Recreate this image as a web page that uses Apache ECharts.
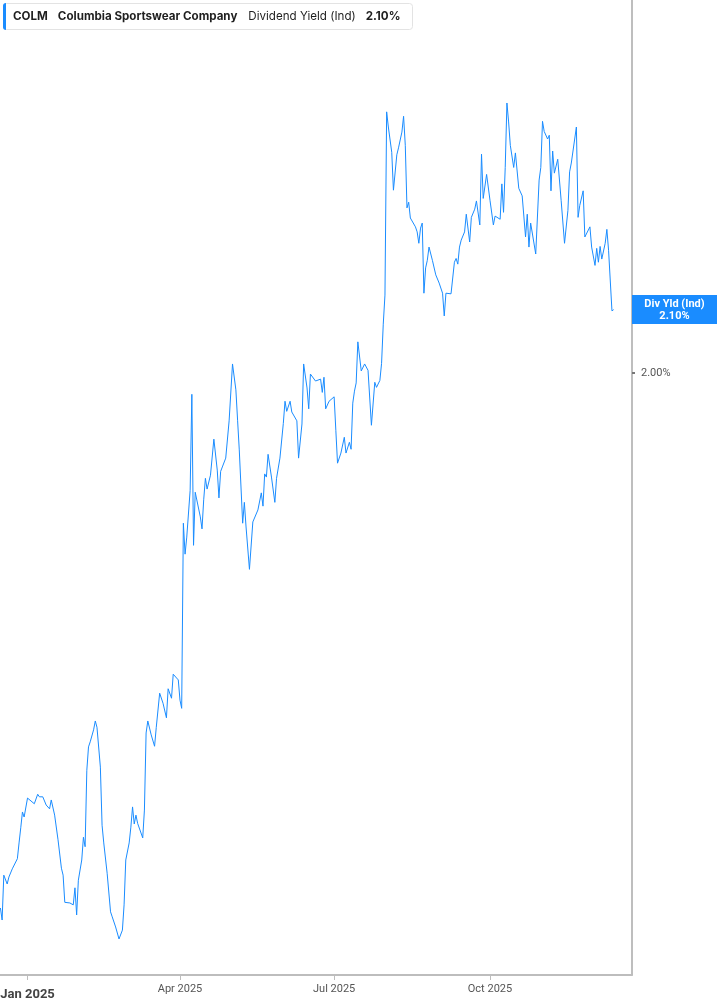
<!DOCTYPE html>
<html>
<head>
<meta charset="utf-8">
<script src="https://cdn.jsdelivr.net/npm/echarts@6/dist/echarts.min.js"></script>
<style>
html,body{margin:0;padding:0;background:#fff;}
#main{width:717px;height:1005px;}
</style>
</head>
<body>
<div id="main"></div>
<script>
var ticker = 'COLM';
var company = 'Columbia Sportswear Company';
var metric = 'Dividend Yield (Ind)';

var dates = [
'2024-12-16','2024-12-17','2024-12-18','2024-12-19','2024-12-20','2024-12-21','2024-12-23','2024-12-24','2024-12-26','2024-12-27',
'2024-12-28','2024-12-29','2024-12-30','2025-01-01','2025-01-02','2025-01-05','2025-01-07','2025-01-08','2025-01-10','2025-01-12',
'2025-01-14','2025-01-15','2025-01-16','2025-01-17','2025-01-19','2025-01-21','2025-01-22','2025-01-23','2025-01-24','2025-01-26',
'2025-01-28','2025-01-29','2025-01-30','2025-01-31','2025-02-02','2025-02-03','2025-02-04','2025-02-05','2025-02-06','2025-02-07',
'2025-02-09','2025-02-10','2025-02-11','2025-02-13','2025-02-14','2025-02-15','2025-02-17','2025-02-19','2025-02-20','2025-02-22',
'2025-02-24','2025-02-26','2025-02-27','2025-02-28','2025-03-02','2025-03-03','2025-03-04','2025-03-05','2025-03-06','2025-03-07',
'2025-03-10','2025-03-11','2025-03-12','2025-03-13','2025-03-15','2025-03-17','2025-03-18','2025-03-20','2025-03-22','2025-03-24',
'2025-03-25','2025-03-27','2025-03-28','2025-03-31','2025-04-01','2025-04-02','2025-04-03','2025-04-04','2025-04-05','2025-04-07',
'2025-04-08','2025-04-09','2025-04-10','2025-04-11','2025-04-13','2025-04-14','2025-04-15','2025-04-16','2025-04-17','2025-04-19',
'2025-04-21','2025-04-23','2025-04-24','2025-04-25','2025-04-26','2025-04-28','2025-04-30','2025-05-01','2025-05-02','2025-05-04',
'2025-05-05','2025-05-06','2025-05-08','2025-05-09','2025-05-10','2025-05-12','2025-05-14','2025-05-15','2025-05-17','2025-05-19',
'2025-05-20','2025-05-21','2025-05-22','2025-05-23','2025-05-25','2025-05-27','2025-05-28','2025-05-30','2025-06-01','2025-06-02',
'2025-06-03','2025-06-05','2025-06-06','2025-06-09','2025-06-10','2025-06-12','2025-06-13','2025-06-15','2025-06-16','2025-06-17',
'2025-06-18','2025-06-20','2025-06-23','2025-06-24','2025-06-25','2025-06-26','2025-06-28','2025-07-01','2025-07-02','2025-07-03',
'2025-07-05','2025-07-07','2025-07-08','2025-07-10','2025-07-11','2025-07-12','2025-07-13','2025-07-14','2025-07-15','2025-07-17',
'2025-07-19','2025-07-21','2025-07-23','2025-07-25','2025-07-26','2025-07-28','2025-07-29','2025-07-30','2025-07-31','2025-08-01',
'2025-08-02','2025-08-04','2025-08-05','2025-08-07','2025-08-08','2025-08-10','2025-08-11','2025-08-12','2025-08-13','2025-08-14',
'2025-08-15','2025-08-18','2025-08-19','2025-08-20','2025-08-21','2025-08-22','2025-08-23','2025-08-24','2025-08-25','2025-08-26',
'2025-08-28','2025-08-29','2025-08-30','2025-09-01','2025-09-03','2025-09-04','2025-09-05','2025-09-08','2025-09-10','2025-09-11',
'2025-09-12','2025-09-13','2025-09-14','2025-09-16','2025-09-17','2025-09-19','2025-09-20','2025-09-22','2025-09-23','2025-09-25',
'2025-09-26','2025-09-27','2025-09-29','2025-10-01','2025-10-03','2025-10-04','2025-10-07','2025-10-08','2025-10-09','2025-10-10',
'2025-10-11','2025-10-12','2025-10-13','2025-10-15','2025-10-16','2025-10-18','2025-10-20','2025-10-22','2025-10-23','2025-10-24',
'2025-10-25','2025-10-28','2025-10-30','2025-10-31','2025-11-01','2025-11-02','2025-11-04','2025-11-05','2025-11-06','2025-11-07',
'2025-11-08','2025-11-10','2025-11-12','2025-11-14','2025-11-16','2025-11-17','2025-11-18','2025-11-21','2025-11-22','2025-11-23',
'2025-11-25','2025-11-26','2025-11-29','2025-11-30','2025-12-02','2025-12-03','2025-12-04','2025-12-05','2025-12-06','2025-12-08',
'2025-12-09','2025-12-10','2025-12-12','2025-12-13'
];

var yields = [
1.153,1.134,1.205,1.204,1.191,1.202,1.215,1.218,1.231,1.256,
1.280,1.305,1.297,1.327,1.327,1.318,1.333,1.329,1.329,1.316,
1.310,1.324,1.321,1.300,1.261,1.216,1.205,1.162,1.164,1.161,
1.158,1.185,1.142,1.197,1.229,1.265,1.250,1.371,1.408,1.416,
1.435,1.449,1.439,1.376,1.284,1.256,1.208,1.147,1.139,1.123,
1.104,1.118,1.158,1.229,1.256,1.281,1.313,1.286,1.300,1.287,
1.264,1.308,1.430,1.449,1.427,1.409,1.439,1.493,1.477,1.454,
1.500,1.485,1.523,1.514,1.482,1.469,1.762,1.713,1.740,1.814,
1.966,1.727,1.811,1.811,1.772,1.753,1.799,1.833,1.816,1.838,
1.895,1.846,1.802,1.844,1.851,1.865,1.924,1.924,2.014,1.973,
1.925,1.878,1.762,1.795,1.756,1.689,1.764,1.762,1.783,1.810,
1.789,1.840,1.835,1.871,1.835,1.795,1.833,1.865,1.920,1.955,
1.939,1.955,1.938,1.924,1.865,1.919,2.014,1.976,1.943,1.998,
2.000,1.987,1.990,1.969,1.993,1.943,1.955,1.962,1.909,1.857,
1.873,1.898,1.873,1.890,1.879,1.952,1.971,1.984,2.049,2.003,
2.014,2.004,1.917,1.985,1.977,1.988,2.015,2.077,2.123,2.413,
2.389,2.349,2.289,2.345,2.356,2.381,2.406,2.360,2.261,2.270,
2.245,2.231,2.223,2.205,2.229,2.237,2.126,2.166,2.178,2.199,
2.178,2.181,2.155,2.142,2.126,2.090,2.126,2.125,2.175,2.181,
2.172,2.199,2.210,2.223,2.251,2.207,2.246,2.259,2.272,2.234,
2.346,2.276,2.314,2.273,2.234,2.248,2.243,2.299,2.254,2.325,
2.427,2.397,2.360,2.325,2.348,2.292,2.280,2.215,2.251,2.199,
2.237,2.188,2.305,2.325,2.398,2.382,2.370,2.376,2.288,2.351,
2.316,2.338,2.273,2.205,2.257,2.318,2.332,2.389,2.246,2.265,
2.288,2.215,2.231,2.199,2.170,2.197,2.175,2.200,2.180,2.205,
2.227,2.194,2.098,2.100
];

var tickDates = ['2025-01-01', '2025-04-01', '2025-07-01', '2025-10-01'];
var tickLabels = ['Jan 2025', 'Apr 2025', 'Jul 2025', 'Oct 2025'];
var yTicks = [2.00];

var blue = '#1a8cff';

function ts(s) {
    var p = s.split('-');
    return Date.UTC(+p[0], +p[1] - 1, +p[2]);
}

var tickTs = tickDates.map(ts);
var lastVal = yields[yields.length - 1];
var lastTxt = lastVal.toFixed(2) + '%';

var seriesData = [];
for (var i = 0; i < dates.length; i++) {
    seriesData.push([ts(dates[i]), yields[i]]);
}

var myChart = echarts.init(document.getElementById('main'));

var option = {
    animation: false,
    textStyle: { fontFamily: 'Roboto' },
    title: {
        left: 3,
        top: 3,
        padding: [0, 12, 0, 0],
        backgroundColor: '#fff',
        borderColor: '#e3e3e3',
        borderWidth: 1,
        borderRadius: 3,
        text: '{bar|}{tk|' + ticker + '}{nm|' + company + '}{lb|' + metric + '}{val|' + lastTxt + '}',
        textStyle: {
            rich: {
                bar: { width: 3, height: 27, backgroundColor: blue, borderRadius: [3, 0, 0, 3] },
                tk: { fontFamily: 'Inter', fontWeight: 'bold', fontSize: 11.6, color: '#1f1f1f', padding: [0, 10, 0, 7] },
                nm: { fontFamily: 'Inter', fontWeight: 'bold', fontSize: 11.6, color: '#1f1f1f', padding: [0, 11, 0, 0] },
                lb: { fontFamily: 'Inter', fontWeight: 'normal', fontSize: 11.6, color: '#1f1f1f', padding: [0, 10, 0, 0] },
                val: { fontFamily: 'Inter', fontWeight: 'bold', fontSize: 11.6, color: '#1f1f1f' }
            }
        }
    },
    grid: {
        left: 0,
        right: 85,
        top: 0,
        bottom: 30,
        containLabel: false,
        outerBoundsMode: 'none'
    },
    xAxis: {
        type: 'value',
        min: ts('2024-12-15') + 18 * 3600 * 1000,
        max: ts('2025-12-23') + 20 * 3600 * 1000,
        axisLine: { show: true, lineStyle: { color: '#bdbdbd', width: 2 } },
        axisTick: {
            show: true,
            length: 5,
            lineStyle: { color: '#bdbdbd' },
            customValues: tickTs
        },
        splitLine: { show: false },
        axisLabel: {
            customValues: tickTs,
            margin: 9,
            color: '#555',
            fontSize: 11,
            formatter: function (v) {
                var k = tickTs.indexOf(v);
                if (k < 0) return '';
                if (k === 0) return '{b|' + tickLabels[k] + '}';
                return tickLabels[k];
            },
            rich: {
                b: { fontSize: 13, fontWeight: 'bold', color: '#444', fontFamily: 'Roboto', padding: [4, 0, 0, 0] }
            }
        }
    },
    yAxis: {
        type: 'value',
        position: 'right',
        min: 1.047,
        max: 2.59,
        axisLine: { show: true, lineStyle: { color: '#a8a8a8', width: 1.5 } },
        axisTick: {
            show: true,
            inside: false,
            length: 3,
            lineStyle: { color: '#777', width: 2 },
            customValues: yTicks
        },
        splitLine: { show: false },
        axisLabel: {
            customValues: yTicks,
            margin: 9,
            color: '#555',
            fontSize: 11,
            formatter: function (v) { return v.toFixed(2) + '%'; }
        }
    },
    series: [{
        name: 'Div Yld (Ind)',
        type: 'line',
        data: seriesData,
        showSymbol: false,
        symbol: 'none',
        lineStyle: { color: blue, width: 1 },
        markLine: {
            silent: true,
            symbol: ['none', 'none'],
            lineStyle: { color: 'rgba(0,0,0,0)' },
            label: {
                show: true,
                position: 'end',
                distance: 0,
                backgroundColor: blue,
                padding: [3, 0, 2, 0],
                formatter: '{a|Div Yld (Ind)}\n{a|' + lastTxt + '}',
                rich: {
                    a: { width: 85, align: 'center', color: '#fff', fontWeight: 'bold', fontSize: 11, lineHeight: 12, fontFamily: 'Roboto' }
                }
            },
            data: [{ yAxis: lastVal }]
        }
    }]
};

myChart.setOption(option);
</script>
</body>
</html>
